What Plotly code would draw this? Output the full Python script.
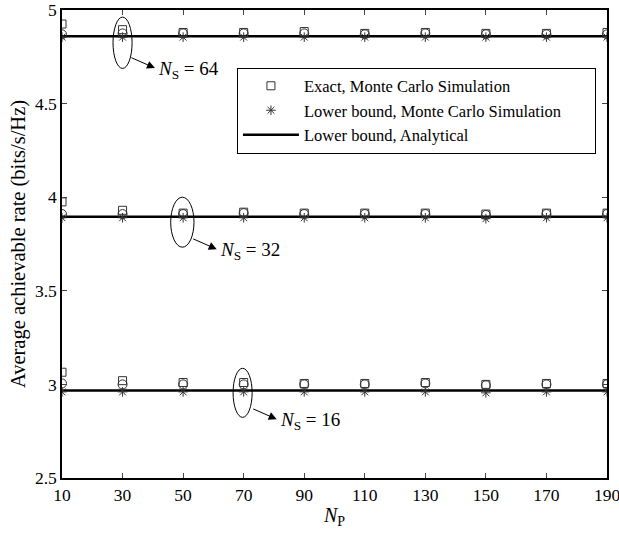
import plotly.graph_objects as go

NP = [10, 30, 50, 70, 90, 110, 130, 150, 170, 190]

exact_64 = [4.925, 4.895, 4.88, 4.88, 4.885, 4.875, 4.88, 4.875, 4.875, 4.88]
circ_64 = [4.87, 4.875, 4.875, 4.875, 4.875, 4.87, 4.875, 4.87, 4.87, 4.87]
lbsim_64 = [4.855, 4.855, 4.855, 4.855, 4.855, 4.855, 4.855, 4.855, 4.855, 4.855]
lban_64 = [4.86] * 10

exact_32 = [3.975, 3.93, 3.915, 3.92, 3.915, 3.915, 3.915, 3.91, 3.915, 3.915]
circ_32 = [3.91, 3.91, 3.91, 3.915, 3.91, 3.91, 3.91, 3.905, 3.91, 3.91]
lbsim_32 = [3.89, 3.89, 3.89, 3.89, 3.89, 3.89, 3.89, 3.885, 3.89, 3.89]
lban_32 = [3.895] * 10

exact_16 = [3.065, 3.02, 3.01, 3.01, 3.005, 3.005, 3.01, 3.0, 3.005, 3.005]
circ_16 = [3.005, 3.0, 3.0, 3.0, 3.0, 3.0, 3.005, 2.995, 3.0, 3.0]
lbsim_16 = [2.96, 2.96, 2.96, 2.96, 2.96, 2.96, 2.96, 2.955, 2.96, 2.96]
lban_16 = [2.968] * 10

FONT = "'Liberation Serif', 'Times New Roman', Times, serif"
MC = "#333333"
PAD = "\u00a0" * 7

fig = go.Figure()

groups = [(exact_64, circ_64, lbsim_64, lban_64),
          (exact_32, circ_32, lbsim_32, lban_32),
          (exact_16, circ_16, lbsim_16, lban_16)]

for i, (ex, ci, lb, an) in enumerate(groups):
    first = i == 0
    fig.add_trace(go.Scatter(x=NP, y=an, mode="lines", line=dict(color="black", width=2.5),
                             name="Lower bound, Analytical", showlegend=first, legendrank=3))
    fig.add_trace(go.Scatter(x=NP, y=ci, mode="markers",
                             marker=dict(symbol="circle-open", size=9, color=MC, line=dict(width=1)),
                             name="Circle", showlegend=False))
    fig.add_trace(go.Scatter(x=NP, y=ex, mode="markers",
                             marker=dict(symbol="square-open", size=8, color=MC, line=dict(width=1)),
                             name="Exact, Monte Carlo Simulation", showlegend=first, legendrank=1))
    fig.add_trace(go.Scatter(x=NP, y=lb, mode="markers",
                             marker=dict(symbol="asterisk-open", size=8, color=MC, line=dict(width=1)),
                             name="Lower bound, Monte Carlo Simulation" + PAD, showlegend=first,
                             legendrank=2))

# ellipses
ellipses = [(26.85, 33.15, 4.688, 4.962), (45.9, 53.6, 3.733, 4.0), (66.5, 72.8, 2.824, 3.086)]
for x0, x1, y0, y1 in ellipses:
    fig.add_shape(type="circle", xref="x", yref="y", x0=x0, x1=x1, y0=y0, y1=y1,
                  line=dict(color="black", width=1))

labels = ["64", "32", "16"]
heads = [(40.7, 4.690), (61.1, 3.722), (80.9, 2.814)]
for lab, (hx, hy) in zip(labels, heads):
    fig.add_annotation(x=hx, y=hy, xref="x", yref="y", text="", showarrow=True,
                       ax=-25, ay=-11, axref="pixel", ayref="pixel",
                       arrowhead=2, arrowsize=1.6, arrowwidth=1, arrowcolor="black")
    fig.add_annotation(x=hx, y=hy, xref="x", yref="y",
                       text="<i>N</i><sub>S</sub> = " + lab, showarrow=False,
                       xanchor="left", yanchor="middle", xshift=1, yshift=-2,
                       font=dict(family=FONT, size=19, color="black"))

axis_common = dict(showgrid=False, zeroline=False, showline=True, linecolor="black", linewidth=1.5,
                   mirror="ticks", ticks="inside", ticklen=5, tickcolor="#444", tickwidth=1,
                   automargin=False, ticklabeloverflow="allow",
                   tickfont=dict(family=FONT, size=17.5, color="black"))

fig.update_xaxes(range=[10, 190], tickvals=NP, ticktext=[str(v) for v in NP],
                 title=dict(text="<i>N</i><sub>P</sub>", font=dict(family=FONT, size=20, color="black"),
                            standoff=4),
                 **axis_common)
fig.update_yaxes(range=[2.5, 5], tickvals=[2.5, 3, 3.5, 4, 4.5, 5],
                 ticktext=["2.5", "3", "3.5", "4", "4.5", "5"],
                 title=dict(text="Average achievable rate (bits/s/Hz)",
                            font=dict(family=FONT, size=20.5, color="black"), standoff=4),
                 **axis_common)

fig.update_layout(
    width=619, height=534,
    margin=dict(l=62, r=12, t=10, b=56),
    plot_bgcolor="white", paper_bgcolor="white",
    font=dict(family=FONT, color="black"),
    legend=dict(x=0.321, y=0.877, xanchor="left", yanchor="top",
                bgcolor="white", bordercolor="black", borderwidth=1,
                font=dict(family=FONT, size=16.5, color="black"),
                tracegroupgap=0, itemwidth=56),
)

fig.write_html("out.html", config={"displayModeBar": False},
               post_script="document.body.style.margin='0';document.body.style.padding='0';")
